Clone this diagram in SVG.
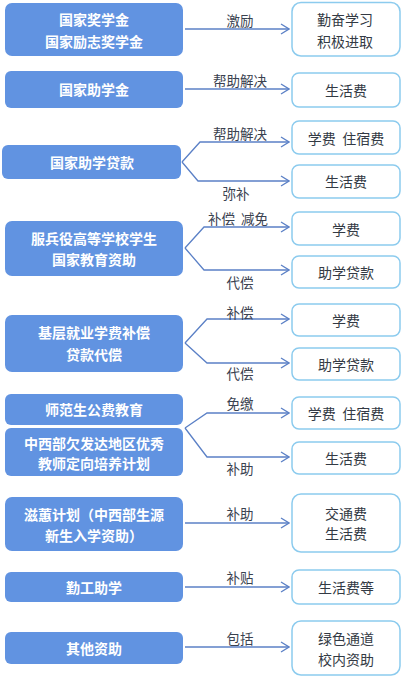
<svg xmlns="http://www.w3.org/2000/svg" width="403" height="677" viewBox="0 0 403 677">
<defs>
<style>
.l{fill:#6193e1;}
.r{fill:#ffffff;stroke:#8ccbee;stroke-width:1.5;}
.lt{font-family:"Noto Sans CJK SC","Microsoft YaHei",sans-serif;font-size:14px;font-weight:bold;fill:#ffffff;text-anchor:middle;dominant-baseline:central;}
.rt{font-family:"Noto Sans CJK SC","Microsoft YaHei",sans-serif;font-size:14px;fill:#333a44;text-anchor:middle;dominant-baseline:central;}
.et{font-family:"Noto Sans CJK SC","Microsoft YaHei",sans-serif;font-size:13.5px;fill:#3a4250;text-anchor:middle;dominant-baseline:central;}
.c{fill:none;stroke:#5b80c6;stroke-width:1.3;}
</style>
<marker id="a" viewBox="0 0 10 12" refX="9" refY="6" markerWidth="10" markerHeight="12" markerUnits="userSpaceOnUse" orient="auto">
<path d="M1,1 L9,6 L1,11" fill="none" stroke="#5b80c6" stroke-width="1.3"/>
</marker>
</defs>
<rect width="403" height="677" fill="#ffffff"/>

<g id="connectors">
<path class="c" d="M185,29 H289" marker-end="url(#a)"/>
<path class="c" d="M185,89 H289" marker-end="url(#a)"/>
<path class="c" d="M182,162 L200,142 H289" marker-end="url(#a)"/>
<path class="c" d="M182,162 L198,181 H289" marker-end="url(#a)"/>
<path class="c" d="M185,248 L204,227 H289" marker-end="url(#a)"/>
<path class="c" d="M185,248 L204,270 H289" marker-end="url(#a)"/>
<path class="c" d="M185,343 L207,319 H289" marker-end="url(#a)"/>
<path class="c" d="M185,343 L207,363 H289" marker-end="url(#a)"/>
<path class="c" d="M185,428 L207,413 H289" marker-end="url(#a)"/>
<path class="c" d="M185,428 L207,457 H289" marker-end="url(#a)"/>
<path class="c" d="M185,523 H289" marker-end="url(#a)"/>
<path class="c" d="M185,587 H289" marker-end="url(#a)"/>
<path class="c" d="M185,647 H289" marker-end="url(#a)"/>
<text class="et" x="240" y="20">激励</text>
<text class="et" x="240" y="80">帮助解决</text>
<text class="et" x="240" y="133">帮助解决</text>
<text class="et" x="236" y="193">弥补</text>
<text class="et" x="238" y="218">补偿&#160;&#160;减免</text>
<text class="et" x="240" y="282">代偿</text>
<text class="et" x="240" y="312">补偿</text>
<text class="et" x="240" y="373">代偿</text>
<text class="et" x="240" y="403">免缴</text>
<text class="et" x="240" y="468">补助</text>
<text class="et" x="240" y="513">补助</text>
<text class="et" x="240" y="577">补贴</text>
<text class="et" x="240" y="638">包括</text>
</g>

<g id="n1"><rect class="l" x="5" y="3" width="178" height="53" rx="7"/><text class="lt" x="94" y="19">国家奖学金</text><text class="lt" x="94" y="41">国家励志奖学金</text></g>
<g id="n2"><rect class="l" x="5" y="71" width="178" height="37" rx="6"/><text class="lt" x="94" y="89">国家助学金</text></g>
<g id="n3"><rect class="l" x="2" y="145" width="179" height="34" rx="6"/><text class="lt" x="92" y="162">国家助学贷款</text></g>
<g id="n4"><rect class="l" x="5" y="221" width="178" height="55" rx="7"/><text class="lt" x="94" y="238">服兵役高等学校学生</text><text class="lt" x="94" y="259">国家教育资助</text></g>
<g id="n5"><rect class="l" x="5" y="315" width="178" height="57" rx="7"/><text class="lt" x="94" y="332">基层就业学费补偿</text><text class="lt" x="94" y="354">贷款代偿</text></g>
<g id="n6"><rect class="l" x="5" y="394" width="178" height="31" rx="6"/><text class="lt" x="94" y="409">师范生公费教育</text></g>
<g id="n7"><rect class="l" x="5" y="428" width="178" height="48" rx="6"/><text class="lt" x="94" y="443">中西部欠发达地区优秀</text><text class="lt" x="94" y="463">教师定向培养计划</text></g>
<g id="n8"><rect class="l" x="5" y="497" width="178" height="54" rx="7"/><text class="lt" x="94" y="514">滋蕙计划（中西部生源</text><text class="lt" x="94" y="535">新生入学资助）</text></g>
<g id="n9"><rect class="l" x="5" y="572" width="178" height="30" rx="6"/><text class="lt" x="94" y="587">勤工助学</text></g>
<g id="n10"><rect class="l" x="5" y="632" width="178" height="32" rx="6"/><text class="lt" x="94" y="648">其他资助</text></g>

<g id="r1"><rect class="r" x="292" y="2.5" width="108" height="53.5" rx="9"/><text class="rt" x="345" y="19">勤奋学习</text><text class="rt" x="345" y="41">积极进取</text></g>
<g id="r2"><rect class="r" x="292" y="73" width="108" height="34" rx="7"/><text class="rt" x="346" y="90">生活费</text></g>
<g id="r3"><rect class="r" x="292" y="121" width="108" height="33" rx="7"/><text class="rt" x="346" y="138">学费&#160;&#160;住宿费</text></g>
<g id="r4"><rect class="r" x="292" y="165" width="108" height="33" rx="7"/><text class="rt" x="346" y="181">生活费</text></g>
<g id="r5"><rect class="r" x="292" y="212" width="108" height="33" rx="7"/><text class="rt" x="346" y="229">学费</text></g>
<g id="r6"><rect class="r" x="292" y="256" width="108" height="32" rx="7"/><text class="rt" x="346" y="272">助学贷款</text></g>
<g id="r7"><rect class="r" x="292" y="304" width="108" height="32" rx="7"/><text class="rt" x="346" y="320">学费</text></g>
<g id="r8"><rect class="r" x="292" y="348" width="108" height="32" rx="7"/><text class="rt" x="346" y="364">助学贷款</text></g>
<g id="r9"><rect class="r" x="292" y="397" width="108" height="32" rx="7"/><text class="rt" x="346" y="413">学费&#160;&#160;住宿费</text></g>
<g id="r10"><rect class="r" x="292" y="442" width="108" height="32" rx="7"/><text class="rt" x="346" y="458">生活费</text></g>
<g id="r11"><rect class="r" x="292" y="494" width="108" height="58" rx="9"/><text class="rt" x="346" y="513">交通费</text><text class="rt" x="346" y="533">生活费</text></g>
<g id="r12"><rect class="r" x="292" y="570" width="108" height="34" rx="7"/><text class="rt" x="346" y="587">生活费等</text></g>
<g id="r13"><rect class="r" x="292" y="621" width="108" height="54" rx="9"/><text class="rt" x="346" y="638">绿色通道</text><text class="rt" x="346" y="659">校内资助</text></g>
</svg>
